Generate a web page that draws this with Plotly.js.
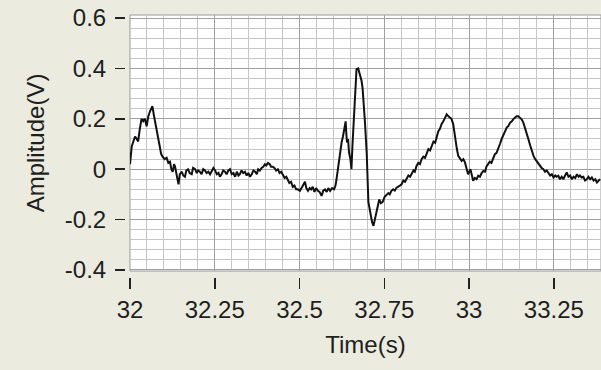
<!DOCTYPE html>
<html>
<head>
<meta charset="utf-8">
<script src="https://cdn.plot.ly/plotly-3.0.1.min.js"></script>
<style>html,body{margin:0;padding:0;background:#EBEBDF;}#chart{width:601px;height:370px;}</style>
</head>
<body>
<div id="chart"></div>
<script>
// Time (s)
var timeS = [
32.000,32.005,32.010,32.015,32.020,32.024,32.029,32.034,32.039,32.044,
32.049,32.054,32.059,32.066,32.071,32.075,32.079,32.084,32.088,32.092,
32.096,32.102,32.108,32.113,32.118,32.122,32.126,32.130,32.133,32.138,
32.143,32.147,32.153,32.157,32.162,32.166,32.171,32.176,32.182,32.186,
32.192,32.197,32.201,32.206,32.211,32.216,32.221,32.226,32.231,32.236,
32.241,32.246,32.251,32.256,32.261,32.265,32.270,32.275,32.280,32.285,
32.290,32.295,32.300,32.305,32.310,32.315,32.320,32.324,32.329,32.334,
32.339,32.344,32.349,32.354,32.359,32.364,32.369,32.374,32.378,32.383,
32.388,32.393,32.398,32.402,32.407,32.412,32.416,32.421,32.426,32.431,
32.436,32.441,32.446,32.451,32.456,32.461,32.465,32.470,32.475,32.480,
32.485,32.490,32.495,32.501,32.508,32.512,32.516,32.520,32.525,32.530,
32.534,32.539,32.544,32.549,32.554,32.559,32.565,32.570,32.575,32.580,
32.585,32.590,32.596,32.602,32.606,32.609,32.613,32.617,32.621,32.624,
32.628,32.631,32.634,32.636,32.638,32.640,32.643,32.646,32.650,32.653,
32.656,32.661,32.665,32.668,32.673,32.677,32.680,32.683,32.686,32.690,
32.693,32.698,32.701,32.703,32.707,32.710,32.714,32.718,32.722,32.726,
32.730,32.735,32.740,32.745,32.751,32.757,32.762,32.766,32.771,32.776,
32.781,32.786,32.791,32.796,32.801,32.806,32.811,32.816,32.821,32.826,
32.831,32.836,32.840,32.845,32.850,32.855,32.860,32.865,32.870,32.875,
32.880,32.885,32.890,32.895,32.900,32.904,32.909,32.914,32.919,32.924,
32.929,32.934,32.939,32.944,32.948,32.953,32.957,32.960,32.964,32.968,
32.973,32.978,32.983,32.988,32.993,32.997,33.004,33.008,33.012,33.017,
33.022,33.027,33.032,33.037,33.042,33.047,33.051,33.056,33.061,33.066,
33.071,33.076,33.081,33.086,33.091,33.096,33.101,33.106,33.111,33.116,
33.121,33.126,33.130,33.135,33.140,33.145,33.150,33.155,33.160,33.165,
33.170,33.175,33.180,33.185,33.190,33.195,33.200,33.204,33.209,33.214,
33.219,33.224,33.229,33.234,33.239,33.244,33.249,33.254,33.258,33.263,
33.268,33.273,33.278,33.283,33.288,33.293,33.298,33.303,33.308,33.313,
33.318,33.323,33.327,33.332,33.337,33.342,33.347,33.352,33.357,33.362,
33.367,33.372,33.377,33.382,33.387
];
// Amplitude (V)
var amplitudeV = [
0.02,0.09,0.11,0.13,0.12,0.11,0.16,0.20,0.19,0.20,
0.17,0.21,0.23,0.25,0.21,0.18,0.15,0.11,0.09,0.06,
0.05,0.04,0.045,0.025,0.03,0.0,-0.01,0.02,0.01,-0.03,
-0.06,-0.02,-0.01,-0.025,-0.03,-0.005,0.0,-0.015,-0.02,0.005,
0.0,-0.015,-0.005,-0.01,-0.02,0.0,-0.005,-0.015,-0.01,-0.02,
-0.01,0.005,-0.005,-0.02,-0.015,-0.03,-0.02,-0.005,-0.01,-0.02,
-0.005,0.0,-0.02,-0.015,-0.03,-0.01,-0.025,-0.02,-0.005,-0.015,
-0.01,-0.025,-0.015,-0.03,-0.02,-0.005,-0.01,-0.02,0.0,-0.005,
0.005,0.01,0.02,0.015,0.025,0.02,0.01,0.01,0.005,-0.005,
0.0,-0.015,-0.01,-0.02,-0.035,-0.03,-0.04,-0.055,-0.05,-0.07,
-0.065,-0.08,-0.08,-0.086,-0.07,-0.06,-0.05,-0.075,-0.086,-0.075,
-0.08,-0.07,-0.09,-0.075,-0.086,-0.09,-0.106,-0.085,-0.08,-0.09,
-0.075,-0.086,-0.075,-0.08,-0.065,-0.04,0.0,0.053,0.08,0.106,
0.13,0.159,0.17,0.19,0.14,0.106,0.12,0.066,0.04,0.0,
0.093,0.21,0.30,0.397,0.40,0.38,0.37,0.35,0.32,0.25,
0.185,0.066,-0.04,-0.13,-0.16,-0.185,-0.21,-0.225,-0.2,-0.17,
-0.14,-0.12,-0.135,-0.13,-0.11,-0.10,-0.095,-0.1,-0.086,-0.08,
-0.085,-0.073,-0.07,-0.065,-0.06,-0.045,-0.05,-0.04,-0.025,-0.03,
-0.02,-0.005,-0.01,0.013,0.025,0.02,0.04,0.05,0.045,0.066,
0.08,0.075,0.093,0.11,0.105,0.13,0.15,0.16,0.18,0.19,
0.205,0.218,0.21,0.205,0.2,0.18,0.14,0.106,0.08,0.053,
0.04,0.033,0.04,0.026,0.0,-0.02,0.0,-0.03,-0.046,-0.035,
-0.04,-0.026,-0.03,-0.015,-0.007,-0.01,0.01,0.02,0.03,0.025,
0.046,0.06,0.065,0.08,0.1,0.12,0.139,0.15,0.165,0.172,
0.185,0.19,0.198,0.205,0.21,0.21,0.205,0.198,0.185,0.165,
0.14,0.119,0.095,0.07,0.053,0.04,0.03,0.02,0.01,0.005,
0.0,-0.01,-0.005,-0.013,-0.025,-0.02,-0.033,-0.025,-0.03,-0.026,
-0.04,-0.03,-0.04,-0.025,-0.013,-0.03,-0.025,-0.04,-0.03,-0.035,
-0.02,-0.03,-0.025,-0.033,-0.03,-0.045,-0.04,-0.03,-0.04,-0.033,
-0.045,-0.04,-0.053,-0.045,-0.04
];
var yTickVals = [-0.4,-0.2,0,0.2,0.4,0.6];
var yTickText = ['-0.4','-0.2','0','0.2','0.4','0.6'];
var xTickVals = [32,32.25,32.5,32.75,33,33.25];
var xTickText = ['32','32.25','32.5','32.75','33','33.25'];

var font = {family:'"Liberation Sans", Arial, sans-serif', size:24, color:'#1e1e1e'};

var trace = {
  x: timeS, y: amplitudeV, type:'scatter', mode:'lines',
  line:{color:'#111111', width:2}, hoverinfo:'skip'
};

var layout = {
  width:601, height:370,
  margin:{l:125, r:0, t:15, b:93},
  paper_bgcolor:'#EBEBDF',
  plot_bgcolor:'#FFFFFF',
  font: font,
  showlegend:false,
  xaxis:{
    domain:[0.0105,1], anchor:'free', position:0,
    range:[32,33.389],
    tickvals:xTickVals, ticktext:xTickText,
    ticks:'outside', ticklen:11, tickwidth:1.5, tickcolor:'#222',
    showgrid:true, gridcolor:'#A0A0A0', gridwidth:1,
    minor:{dtick:0.05, tick0:32, showgrid:true, gridcolor:'#C6C6C6', gridwidth:1, ticks:''},
    zeroline:false, showline:false,
    tickfont:font, ticklabelstandoff:0,
    title:{text:'Time(s)', font:font, standoff:14}
  },
  yaxis:{
    domain:[0.0229,1], anchor:'free', position:0,
    range:[-0.404,0.612],
    tickvals:yTickVals, ticktext:yTickText,
    ticks:'outside', ticklen:10, tickwidth:1.5, tickcolor:'#222',
    showgrid:true, gridcolor:'#A0A0A0', gridwidth:1,
    minor:{dtick:0.04, tick0:-0.4, showgrid:true, gridcolor:'#C6C6C6', gridwidth:1, ticks:''},
    zeroline:false, showline:false,
    tickfont:font, ticklabelstandoff:4,
    title:{text:'Amplitude(V)', font:font, standoff:12}
  },
  shapes:[{type:'rect', xref:'x domain', yref:'y domain', x0:0, x1:1, y0:0, y1:1,
           line:{color:'#9A9A9A', width:1}, layer:'below'}]
};

Plotly.newPlot('chart', [trace], layout, {staticPlot:true, displayModeBar:false});
</script>
</body>
</html>
